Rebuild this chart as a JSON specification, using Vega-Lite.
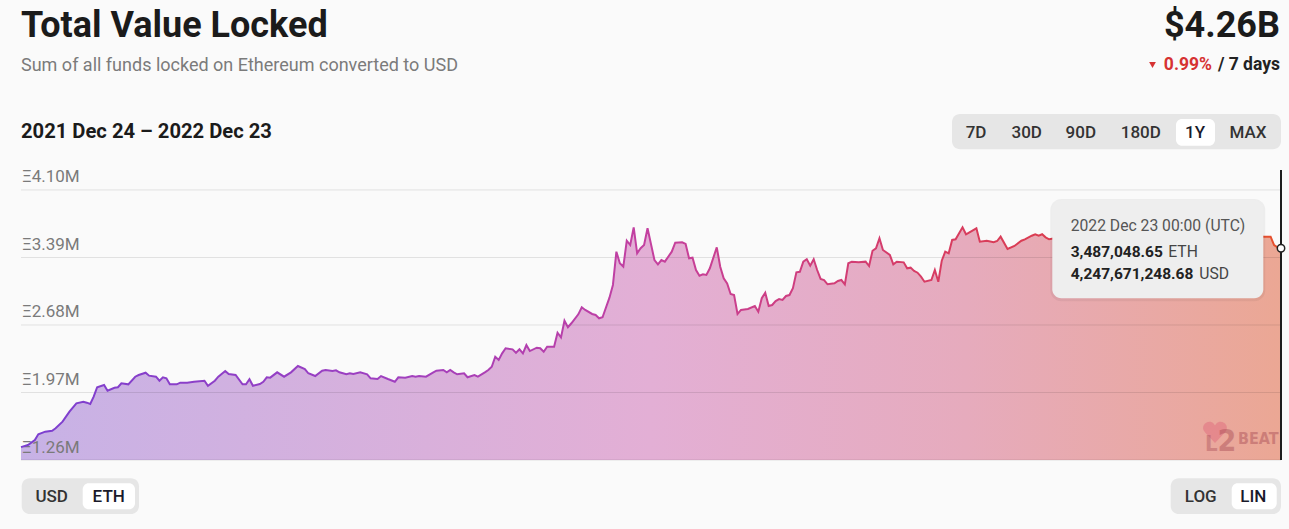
{
  "$schema": "https://vega.github.io/schema/vega-lite/v6.json",
  "width": 1260,
  "height": 290,
  "autosize": {"type": "none"},
  "padding": {"left": 21, "top": 170, "right": 8, "bottom": 69},
  "background": "#fafafa",
  "config": {"view": {"stroke": null}, "font": "Roboto"},
  "data": {"values": [{}]},
  "datasets": {
    "grid": [{"g": 1.26, "label": "Ξ1.26M"}, {"g": 1.97, "label": "Ξ1.97M"}, {"g": 2.68, "label": "Ξ2.68M"}, {"g": 3.39, "label": "Ξ3.39M"}, {"g": 4.10, "label": "Ξ4.10M"}],
    "tvl": [
      {"date": "2021-12-24", "eth": 1.395}, {"date": "2021-12-26", "eth": 1.418}, {"date": "2021-12-28", "eth": 1.470},
      {"date": "2021-12-29", "eth": 1.530}, {"date": "2021-12-31", "eth": 1.558}, {"date": "2022-01-02", "eth": 1.568},
      {"date": "2022-01-03", "eth": 1.593}, {"date": "2022-01-05", "eth": 1.663}, {"date": "2022-01-07", "eth": 1.768},
      {"date": "2022-01-09", "eth": 1.856}, {"date": "2022-01-11", "eth": 1.873}, {"date": "2022-01-12", "eth": 1.863},
      {"date": "2022-01-13", "eth": 1.849}, {"date": "2022-01-14", "eth": 1.926}, {"date": "2022-01-15", "eth": 2.025},
      {"date": "2022-01-17", "eth": 2.049}, {"date": "2022-01-18", "eth": 1.989}, {"date": "2022-01-20", "eth": 2.020},
      {"date": "2022-01-21", "eth": 2.025}, {"date": "2022-01-22", "eth": 2.067}, {"date": "2022-01-24", "eth": 2.056},
      {"date": "2022-01-26", "eth": 2.136}, {"date": "2022-01-27", "eth": 2.154}, {"date": "2022-01-29", "eth": 2.178},
      {"date": "2022-01-30", "eth": 2.147}, {"date": "2022-02-01", "eth": 2.136}, {"date": "2022-02-02", "eth": 2.094},
      {"date": "2022-02-03", "eth": 2.130}, {"date": "2022-02-04", "eth": 2.119}, {"date": "2022-02-05", "eth": 2.056},
      {"date": "2022-02-07", "eth": 2.056}, {"date": "2022-02-08", "eth": 2.073}, {"date": "2022-02-10", "eth": 2.073},
      {"date": "2022-02-12", "eth": 2.083}, {"date": "2022-02-15", "eth": 2.094}, {"date": "2022-02-16", "eth": 2.041},
      {"date": "2022-02-18", "eth": 2.094}, {"date": "2022-02-19", "eth": 2.136}, {"date": "2022-02-21", "eth": 2.196},
      {"date": "2022-02-22", "eth": 2.164}, {"date": "2022-02-24", "eth": 2.154}, {"date": "2022-02-26", "eth": 2.056},
      {"date": "2022-02-27", "eth": 2.056}, {"date": "2022-02-28", "eth": 2.109}, {"date": "2022-03-01", "eth": 2.041},
      {"date": "2022-03-03", "eth": 2.059}, {"date": "2022-03-04", "eth": 2.083}, {"date": "2022-03-05", "eth": 2.130},
      {"date": "2022-03-06", "eth": 2.126}, {"date": "2022-03-08", "eth": 2.182}, {"date": "2022-03-10", "eth": 2.136},
      {"date": "2022-03-12", "eth": 2.182}, {"date": "2022-03-14", "eth": 2.249}, {"date": "2022-03-16", "eth": 2.217},
      {"date": "2022-03-17", "eth": 2.172}, {"date": "2022-03-19", "eth": 2.143}, {"date": "2022-03-21", "eth": 2.199},
      {"date": "2022-03-22", "eth": 2.207}, {"date": "2022-03-24", "eth": 2.196}, {"date": "2022-03-25", "eth": 2.203},
      {"date": "2022-03-26", "eth": 2.182}, {"date": "2022-03-28", "eth": 2.161}, {"date": "2022-03-29", "eth": 2.172},
      {"date": "2022-03-30", "eth": 2.164}, {"date": "2022-04-01", "eth": 2.182}, {"date": "2022-04-03", "eth": 2.161},
      {"date": "2022-04-04", "eth": 2.119}, {"date": "2022-04-06", "eth": 2.112}, {"date": "2022-04-07", "eth": 2.143},
      {"date": "2022-04-09", "eth": 2.112}, {"date": "2022-04-11", "eth": 2.083}, {"date": "2022-04-12", "eth": 2.130},
      {"date": "2022-04-14", "eth": 2.126}, {"date": "2022-04-16", "eth": 2.143}, {"date": "2022-04-17", "eth": 2.136},
      {"date": "2022-04-18", "eth": 2.143}, {"date": "2022-04-20", "eth": 2.136}, {"date": "2022-04-22", "eth": 2.178},
      {"date": "2022-04-23", "eth": 2.199}, {"date": "2022-04-25", "eth": 2.207}, {"date": "2022-04-26", "eth": 2.182},
      {"date": "2022-04-27", "eth": 2.207}, {"date": "2022-04-28", "eth": 2.182}, {"date": "2022-04-29", "eth": 2.161},
      {"date": "2022-05-01", "eth": 2.172}, {"date": "2022-05-02", "eth": 2.130}, {"date": "2022-05-04", "eth": 2.154},
      {"date": "2022-05-05", "eth": 2.136}, {"date": "2022-05-07", "eth": 2.182}, {"date": "2022-05-08", "eth": 2.207},
      {"date": "2022-05-09", "eth": 2.241}, {"date": "2022-05-10", "eth": 2.346}, {"date": "2022-05-11", "eth": 2.312},
      {"date": "2022-05-12", "eth": 2.382}, {"date": "2022-05-13", "eth": 2.435}, {"date": "2022-05-15", "eth": 2.424},
      {"date": "2022-05-16", "eth": 2.388}, {"date": "2022-05-17", "eth": 2.424}, {"date": "2022-05-18", "eth": 2.382},
      {"date": "2022-05-19", "eth": 2.469}, {"date": "2022-05-20", "eth": 2.406}, {"date": "2022-05-22", "eth": 2.441},
      {"date": "2022-05-23", "eth": 2.435}, {"date": "2022-05-24", "eth": 2.399}, {"date": "2022-05-25", "eth": 2.452},
      {"date": "2022-05-27", "eth": 2.452}, {"date": "2022-05-28", "eth": 2.599}, {"date": "2022-05-29", "eth": 2.550},
      {"date": "2022-05-30", "eth": 2.725}, {"date": "2022-05-31", "eth": 2.656}, {"date": "2022-06-01", "eth": 2.698},
      {"date": "2022-06-03", "eth": 2.792}, {"date": "2022-06-04", "eth": 2.866}, {"date": "2022-06-05", "eth": 2.838},
      {"date": "2022-06-07", "eth": 2.796}, {"date": "2022-06-08", "eth": 2.785}, {"date": "2022-06-09", "eth": 2.750},
      {"date": "2022-06-10", "eth": 2.761}, {"date": "2022-06-12", "eth": 2.967}, {"date": "2022-06-13", "eth": 3.101},
      {"date": "2022-06-14", "eth": 3.451}, {"date": "2022-06-15", "eth": 3.329}, {"date": "2022-06-16", "eth": 3.293},
      {"date": "2022-06-17", "eth": 3.566}, {"date": "2022-06-18", "eth": 3.521}, {"date": "2022-06-19", "eth": 3.707},
      {"date": "2022-06-20", "eth": 3.434}, {"date": "2022-06-21", "eth": 3.487}, {"date": "2022-06-22", "eth": 3.521},
      {"date": "2022-06-23", "eth": 3.697}, {"date": "2022-06-25", "eth": 3.363}, {"date": "2022-06-26", "eth": 3.318},
      {"date": "2022-06-27", "eth": 3.363}, {"date": "2022-06-28", "eth": 3.346}, {"date": "2022-06-30", "eth": 3.451},
      {"date": "2022-07-01", "eth": 3.545}, {"date": "2022-07-03", "eth": 3.550}, {"date": "2022-07-04", "eth": 3.532},
      {"date": "2022-07-05", "eth": 3.381}, {"date": "2022-07-06", "eth": 3.388}, {"date": "2022-07-07", "eth": 3.258},
      {"date": "2022-07-08", "eth": 3.198}, {"date": "2022-07-09", "eth": 3.213}, {"date": "2022-07-10", "eth": 3.206},
      {"date": "2022-07-11", "eth": 3.276}, {"date": "2022-07-13", "eth": 3.497}, {"date": "2022-07-14", "eth": 3.293},
      {"date": "2022-07-15", "eth": 3.171}, {"date": "2022-07-16", "eth": 3.118}, {"date": "2022-07-17", "eth": 3.006},
      {"date": "2022-07-18", "eth": 2.995}, {"date": "2022-07-19", "eth": 2.796}, {"date": "2022-07-20", "eth": 2.838},
      {"date": "2022-07-22", "eth": 2.848}, {"date": "2022-07-24", "eth": 2.880}, {"date": "2022-07-25", "eth": 2.820},
      {"date": "2022-07-26", "eth": 2.961}, {"date": "2022-07-27", "eth": 3.020}, {"date": "2022-07-28", "eth": 2.880},
      {"date": "2022-07-29", "eth": 2.890}, {"date": "2022-07-30", "eth": 2.932}, {"date": "2022-07-31", "eth": 2.953},
      {"date": "2022-08-01", "eth": 2.943}, {"date": "2022-08-02", "eth": 2.985}, {"date": "2022-08-03", "eth": 2.995},
      {"date": "2022-08-04", "eth": 3.066}, {"date": "2022-08-05", "eth": 3.234}, {"date": "2022-08-06", "eth": 3.240},
      {"date": "2022-08-07", "eth": 3.346}, {"date": "2022-08-08", "eth": 3.371}, {"date": "2022-08-09", "eth": 3.304},
      {"date": "2022-08-10", "eth": 3.371}, {"date": "2022-08-11", "eth": 3.258}, {"date": "2022-08-12", "eth": 3.164},
      {"date": "2022-08-13", "eth": 3.153}, {"date": "2022-08-14", "eth": 3.108}, {"date": "2022-08-16", "eth": 3.118},
      {"date": "2022-08-17", "eth": 3.143}, {"date": "2022-08-18", "eth": 3.153}, {"date": "2022-08-19", "eth": 3.108},
      {"date": "2022-08-20", "eth": 3.329}, {"date": "2022-08-21", "eth": 3.346}, {"date": "2022-08-23", "eth": 3.339},
      {"date": "2022-08-25", "eth": 3.346}, {"date": "2022-08-26", "eth": 3.300}, {"date": "2022-08-27", "eth": 3.461},
      {"date": "2022-08-28", "eth": 3.487}, {"date": "2022-08-29", "eth": 3.592}, {"date": "2022-08-30", "eth": 3.469},
      {"date": "2022-09-01", "eth": 3.416}, {"date": "2022-09-02", "eth": 3.318}, {"date": "2022-09-03", "eth": 3.346},
      {"date": "2022-09-05", "eth": 3.339}, {"date": "2022-09-06", "eth": 3.276}, {"date": "2022-09-07", "eth": 3.283},
      {"date": "2022-09-08", "eth": 3.248}, {"date": "2022-09-09", "eth": 3.230}, {"date": "2022-09-10", "eth": 3.188},
      {"date": "2022-09-11", "eth": 3.135}, {"date": "2022-09-13", "eth": 3.153}, {"date": "2022-09-14", "eth": 3.258},
      {"date": "2022-09-15", "eth": 3.135}, {"date": "2022-09-16", "eth": 3.356}, {"date": "2022-09-17", "eth": 3.451},
      {"date": "2022-09-18", "eth": 3.434}, {"date": "2022-09-19", "eth": 3.574}, {"date": "2022-09-20", "eth": 3.581},
      {"date": "2022-09-22", "eth": 3.707}, {"date": "2022-09-23", "eth": 3.634}, {"date": "2022-09-24", "eth": 3.655},
      {"date": "2022-09-26", "eth": 3.697}, {"date": "2022-09-27", "eth": 3.556}, {"date": "2022-09-29", "eth": 3.566},
      {"date": "2022-10-01", "eth": 3.550}, {"date": "2022-10-02", "eth": 3.563}, {"date": "2022-10-03", "eth": 3.609},
      {"date": "2022-10-05", "eth": 3.479}, {"date": "2022-10-07", "eth": 3.511}, {"date": "2022-10-09", "eth": 3.566},
      {"date": "2022-10-10", "eth": 3.581}, {"date": "2022-10-12", "eth": 3.619}, {"date": "2022-10-13", "eth": 3.634},
      {"date": "2022-10-14", "eth": 3.619}, {"date": "2022-10-15", "eth": 3.634}, {"date": "2022-10-16", "eth": 3.602},
      {"date": "2022-10-17", "eth": 3.581}, {"date": "2022-10-20", "eth": 3.600}, {"date": "2022-10-23", "eth": 3.622},
      {"date": "2022-10-26", "eth": 3.585}, {"date": "2022-10-29", "eth": 3.628}, {"date": "2022-11-01", "eth": 3.650},
      {"date": "2022-11-04", "eth": 3.612}, {"date": "2022-11-07", "eth": 3.595}, {"date": "2022-11-10", "eth": 3.640},
      {"date": "2022-11-13", "eth": 3.618}, {"date": "2022-11-16", "eth": 3.600}, {"date": "2022-11-19", "eth": 3.630},
      {"date": "2022-11-22", "eth": 3.588}, {"date": "2022-11-25", "eth": 3.605}, {"date": "2022-11-28", "eth": 3.625},
      {"date": "2022-12-01", "eth": 3.595}, {"date": "2022-12-04", "eth": 3.612}, {"date": "2022-12-07", "eth": 3.632},
      {"date": "2022-12-10", "eth": 3.603}, {"date": "2022-12-13", "eth": 3.615}, {"date": "2022-12-16", "eth": 3.620},
      {"date": "2022-12-18", "eth": 3.609}, {"date": "2022-12-20", "eth": 3.609}, {"date": "2022-12-21", "eth": 3.521},
      {"date": "2022-12-22", "eth": 3.497}, {"date": "2022-12-23", "eth": 3.487}
    ]
  },
  "layer": [
    {
      "data": {"name": "tvl"},
      "mark": {"type": "area", "fill": {"gradient": "linear", "x1": 0, "x2": 1, "y1": 0, "y2": 0, "stops": [
        {"offset": 0, "color": "#c7b2e6"}, {"offset": 0.5, "color": "#e3afd5"}, {"offset": 0.75, "color": "#e6abbd"}, {"offset": 1, "color": "#eba794"}]}},
      "encoding": {
        "x": {"field": "date", "type": "temporal", "scale": {"type": "utc", "domain": [1640304000000, 1671753600000]}, "axis": null},
        "y": {"field": "eth", "type": "quantitative", "scale": {"domain": [1.26, 4.31], "nice": false, "zero": false}, "axis": null},
        "y2": {"datum": 1.26}
      }
    },
    {
      "data": {"name": "grid"},
      "mark": {"type": "rule", "stroke": "#000000", "strokeOpacity": 0.1, "strokeWidth": 1},
      "encoding": {"y": {"field": "g", "type": "quantitative", "axis": null}}
    },
    {
      "data": {"name": "grid"},
      "mark": {"type": "text", "align": "left", "baseline": "alphabetic", "dy": -7.5, "font": "Roboto", "fontSize": 17, "fill": "#7a7a7a"},
      "encoding": {
        "x": {"datum": 1640328960000, "type": "temporal", "axis": null},
        "y": {"field": "g", "type": "quantitative", "axis": null},
        "text": {"field": "label", "type": "nominal"}
      }
    },
    {
      "data": {"name": "tvl"},
      "mark": {"type": "line", "strokeWidth": 2, "stroke": {"gradient": "linear", "x1": 0, "x2": 1, "y1": 0, "y2": 0, "stops": [
        {"offset": 0, "color": "#7b3fd0"}, {"offset": 0.3, "color": "#a03fbf"}, {"offset": 0.5, "color": "#c4409f"}, {"offset": 0.7, "color": "#d63c68"}, {"offset": 0.85, "color": "#dc3d48"}, {"offset": 1, "color": "#e6502c"}]}},
      "encoding": {
        "x": {"field": "date", "type": "temporal", "axis": null},
        "y": {"field": "eth", "type": "quantitative", "axis": null}
      }
    },
    {
      "mark": {"type": "point", "shape": "M0,1 L-0.9,0.05 C-1.4,-0.5 -0.8,-1.1 -0.3,-0.9 C-0.15,-0.85 -0.05,-0.7 0,-0.6 C0.05,-0.7 0.15,-0.85 0.3,-0.9 C0.8,-1.1 1.4,-0.5 0.9,0.05 Z", "filled": true, "fill": "#e0707f", "opacity": 0.55, "size": 480},
      "encoding": {"x": {"datum": 1670106240000, "type": "temporal", "axis": null}, "y": {"datum": 1.5545, "type": "quantitative", "axis": null}}
    },
    {
      "mark": {"type": "text", "text": "L", "align": "left", "baseline": "alphabetic", "font": "DejaVu Sans Condensed", "fontWeight": 700, "fontSize": 22, "fill": "#a84c55", "opacity": 0.4},
      "encoding": {"x": {"datum": 1669857600000, "type": "temporal", "axis": null}, "y": {"datum": 1.3547, "type": "quantitative", "axis": null}}
    },
    {
      "mark": {"type": "text", "text": "2", "align": "center", "baseline": "alphabetic", "font": "DejaVu Sans Condensed", "fontWeight": 700, "fontSize": 30, "fill": "#a84c55", "opacity": 0.45},
      "encoding": {"x": {"datum": 1670405760000, "type": "temporal", "axis": null}, "y": {"datum": 1.3547, "type": "quantitative", "axis": null}}
    },
    {
      "mark": {"type": "text", "text": "BEAT", "align": "left", "baseline": "alphabetic", "font": "DejaVu Sans Condensed", "fontWeight": 700, "fontSize": 16, "fill": "#a84c55", "opacity": 0.45},
      "encoding": {"x": {"datum": 1670680320000, "type": "temporal", "axis": null}, "y": {"datum": 1.4283, "type": "quantitative", "axis": null}}
    },
    {
      "mark": {"type": "rule", "stroke": "#1e1e1e", "strokeWidth": 2},
      "encoding": {"x": {"datum": 1671753600000, "type": "temporal", "axis": null}}
    },
    {
      "mark": {"type": "point", "filled": true, "fill": "#ffffff", "stroke": "#222222", "strokeWidth": 1.5, "size": 55, "opacity": 1},
      "encoding": {"x": {"datum": 1671753600000, "type": "temporal", "axis": null}, "y": {"datum": 3.487, "type": "quantitative", "axis": null}}
    },
    {
      "mark": {"type": "rect", "fill": "#000000", "opacity": 0.05, "cornerRadius": 11},
      "encoding": {"x": {"datum": 1665995328000, "type": "temporal", "axis": null}, "x2": {"datum": 1671361728000}, "y": {"datum": 4.005, "type": "quantitative", "axis": null}, "y2": {"datum": 2.929}}
    },
    {
      "mark": {"type": "rect", "fill": "#eeeeee", "cornerRadius": 9},
      "encoding": {"x": {"datum": 1666045248000, "type": "temporal", "axis": null}, "x2": {"datum": 1671311808000}, "y": {"datum": 3.9945, "type": "quantitative", "axis": null}, "y2": {"datum": 2.9606}}
    },
    {
      "mark": {"type": "text", "text": "2022 Dec 23 00:00 (UTC)", "align": "left", "baseline": "alphabetic", "font": "Roboto", "fontSize": 15.7, "fill": "#555555"},
      "encoding": {"x": {"datum": 1666504512000, "type": "temporal", "axis": null}, "y": {"datum": 3.6716, "type": "quantitative", "axis": null}}
    },
    {
      "mark": {"type": "text", "text": "3,487,048.65", "align": "left", "baseline": "alphabetic", "font": "Roboto", "fontSize": 15.5, "fontWeight": 700, "fill": "#222222"},
      "encoding": {"x": {"datum": 1666504512000, "type": "temporal", "axis": null}, "y": {"datum": 3.3982, "type": "quantitative", "axis": null}}
    },
    {
      "mark": {"type": "text", "text": "ETH", "align": "left", "baseline": "alphabetic", "font": "Roboto", "fontSize": 15.7, "fill": "#444444"},
      "encoding": {"x": {"datum": 1668940608000, "type": "temporal", "axis": null}, "y": {"datum": 3.3982, "type": "quantitative", "axis": null}}
    },
    {
      "mark": {"type": "text", "text": "4,247,671,248.68", "align": "left", "baseline": "alphabetic", "font": "Roboto", "fontSize": 15.5, "fontWeight": 700, "fill": "#222222"},
      "encoding": {"x": {"datum": 1666504512000, "type": "temporal", "axis": null}, "y": {"datum": 3.1636, "type": "quantitative", "axis": null}}
    },
    {
      "mark": {"type": "text", "text": "USD", "align": "left", "baseline": "alphabetic", "font": "Roboto", "fontSize": 15.7, "fill": "#444444"},
      "encoding": {"x": {"datum": 1669714368000, "type": "temporal", "axis": null}, "y": {"datum": 3.1636, "type": "quantitative", "axis": null}}
    },
    {
      "mark": {"type": "text", "text": "Total Value Locked", "align": "left", "baseline": "alphabetic", "font": "Roboto", "fontSize": 36, "fontWeight": 700, "fill": "#1b1b1b"},
      "encoding": {"x": {"datum": 1640304000000, "type": "temporal", "axis": null}, "y": {"datum": 5.7036, "type": "quantitative", "axis": null}}
    },
    {
      "mark": {"type": "text", "text": "Sum of all funds locked on Ethereum converted to USD", "align": "left", "baseline": "alphabetic", "font": "Roboto", "fontSize": 18, "fill": "#7b7b7b"},
      "encoding": {"x": {"datum": 1640304000000, "type": "temporal", "axis": null}, "y": {"datum": 5.3512, "type": "quantitative", "axis": null}}
    },
    {
      "mark": {"type": "text", "text": "2021 Dec 24 – 2022 Dec 23", "align": "left", "baseline": "alphabetic", "font": "Roboto", "fontSize": 20.2, "fontWeight": 700, "fill": "#1b1b1b"},
      "encoding": {"x": {"datum": 1640304000000, "type": "temporal", "axis": null}, "y": {"datum": 4.6497, "type": "quantitative", "axis": null}}
    },
    {
      "mark": {"type": "text", "text": "$4.26B", "align": "right", "baseline": "alphabetic", "font": "Roboto", "fontSize": 36, "fontWeight": 700, "fill": "#1b1b1b"},
      "encoding": {"x": {"datum": 1671728640000, "type": "temporal", "axis": null}, "y": {"datum": 5.7036, "type": "quantitative", "axis": null}}
    },
    {
      "mark": {"type": "text", "text": "/ 7 days", "align": "right", "baseline": "alphabetic", "font": "Roboto", "fontSize": 17.5, "fontWeight": 700, "fill": "#222222"},
      "encoding": {"x": {"datum": 1671728640000, "type": "temporal", "axis": null}, "y": {"datum": 5.3617, "type": "quantitative", "axis": null}}
    },
    {
      "mark": {"type": "text", "text": "0.99%", "align": "right", "baseline": "alphabetic", "font": "Roboto", "fontSize": 17.5, "fontWeight": 700, "fill": "#d63232"},
      "encoding": {"x": {"datum": 1670031360000, "type": "temporal", "axis": null}, "y": {"datum": 5.3617, "type": "quantitative", "axis": null}}
    },
    {
      "mark": {"type": "point", "shape": "triangle-down", "filled": true, "fill": "#d63232", "size": 45, "opacity": 1},
      "encoding": {"x": {"datum": 1668546240000, "type": "temporal", "axis": null}, "y": {"datum": 5.4143, "type": "quantitative", "axis": null}}
    },
    {
      "mark": {"type": "rect", "fill": "#e6e6e6", "cornerRadius": 8},
      "encoding": {"x": {"datum": 1663541760000, "type": "temporal", "axis": null}, "x2": {"datum": 1671753600000}, "y": {"datum": 4.899, "type": "quantitative", "axis": null}, "y2": {"datum": 4.5277}}
    },
    {
      "mark": {"type": "rect", "fill": "#ffffff", "cornerRadius": 6},
      "encoding": {"x": {"datum": 1669132800000, "type": "temporal", "axis": null}, "x2": {"datum": 1670106240000}, "y": {"datum": 4.8464, "type": "quantitative", "axis": null}, "y2": {"datum": 4.5656}}
    },
    {
      "mark": {"type": "text", "text": "7D", "align": "center", "baseline": "alphabetic", "font": "Roboto", "fontSize": 17, "fontWeight": 500, "fill": "#333333"},
      "encoding": {"x": {"datum": 1664140800000, "type": "temporal", "axis": null}, "y": {"datum": 4.6466, "type": "quantitative", "axis": null}}
    },
    {
      "mark": {"type": "text", "text": "30D", "align": "center", "baseline": "alphabetic", "font": "Roboto", "fontSize": 17, "fontWeight": 500, "fill": "#333333"},
      "encoding": {"x": {"datum": 1665406272000, "type": "temporal", "axis": null}, "y": {"datum": 4.6466, "type": "quantitative", "axis": null}}
    },
    {
      "mark": {"type": "text", "text": "90D", "align": "center", "baseline": "alphabetic", "font": "Roboto", "fontSize": 17, "fontWeight": 500, "fill": "#333333"},
      "encoding": {"x": {"datum": 1666756608000, "type": "temporal", "axis": null}, "y": {"datum": 4.6466, "type": "quantitative", "axis": null}}
    },
    {
      "mark": {"type": "text", "text": "180D", "align": "center", "baseline": "alphabetic", "font": "Roboto", "fontSize": 17, "fontWeight": 500, "fill": "#333333"},
      "encoding": {"x": {"datum": 1668254208000, "type": "temporal", "axis": null}, "y": {"datum": 4.6466, "type": "quantitative", "axis": null}}
    },
    {
      "mark": {"type": "text", "text": "1Y", "align": "center", "baseline": "alphabetic", "font": "Roboto", "fontSize": 17, "fontWeight": 500, "fill": "#1a1a2a"},
      "encoding": {"x": {"datum": 1669607040000, "type": "temporal", "axis": null}, "y": {"datum": 4.6466, "type": "quantitative", "axis": null}}
    },
    {
      "mark": {"type": "text", "text": "MAX", "align": "center", "baseline": "alphabetic", "font": "Roboto", "fontSize": 17, "fontWeight": 500, "fill": "#333333"},
      "encoding": {"x": {"datum": 1670929920000, "type": "temporal", "axis": null}, "y": {"datum": 4.6466, "type": "quantitative", "axis": null}}
    },
    {
      "mark": {"type": "rect", "fill": "#e6e6e6", "cornerRadius": 8},
      "encoding": {"x": {"datum": 1640321472000, "type": "temporal", "axis": null}, "x2": {"datum": 1643249280000}, "y": {"datum": 1.0675, "type": "quantitative", "axis": null}, "y2": {"datum": 0.6921}}
    },
    {
      "mark": {"type": "rect", "fill": "#ffffff", "cornerRadius": 6},
      "encoding": {"x": {"datum": 1641844032000, "type": "temporal", "axis": null}, "x2": {"datum": 1643149440000}, "y": {"datum": 1.0149, "type": "quantitative", "axis": null}, "y2": {"datum": 0.7415}}
    },
    {
      "mark": {"type": "text", "text": "USD", "align": "center", "baseline": "alphabetic", "font": "Roboto", "fontSize": 17, "fontWeight": 500, "fill": "#333333"},
      "encoding": {"x": {"datum": 1641070272000, "type": "temporal", "axis": null}, "y": {"datum": 0.8151, "type": "quantitative", "axis": null}}
    },
    {
      "mark": {"type": "text", "text": "ETH", "align": "center", "baseline": "alphabetic", "font": "Roboto", "fontSize": 17, "fontWeight": 500, "fill": "#1a1a2a"},
      "encoding": {"x": {"datum": 1642492992000, "type": "temporal", "axis": null}, "y": {"datum": 0.8151, "type": "quantitative", "axis": null}}
    },
    {
      "mark": {"type": "rect", "fill": "#e6e6e6", "cornerRadius": 8},
      "encoding": {"x": {"datum": 1669000512000, "type": "temporal", "axis": null}, "x2": {"datum": 1671753600000}, "y": {"datum": 1.0675, "type": "quantitative", "axis": null}, "y2": {"datum": 0.6921}}
    },
    {
      "mark": {"type": "rect", "fill": "#ffffff", "cornerRadius": 6},
      "encoding": {"x": {"datum": 1670523072000, "type": "temporal", "axis": null}, "x2": {"datum": 1671646272000}, "y": {"datum": 1.0149, "type": "quantitative", "axis": null}, "y2": {"datum": 0.7415}}
    },
    {
      "mark": {"type": "text", "text": "LOG", "align": "center", "baseline": "alphabetic", "font": "Roboto", "fontSize": 17, "fontWeight": 500, "fill": "#333333"},
      "encoding": {"x": {"datum": 1669749312000, "type": "temporal", "axis": null}, "y": {"datum": 0.8151, "type": "quantitative", "axis": null}}
    },
    {
      "mark": {"type": "text", "text": "LIN", "align": "center", "baseline": "alphabetic", "font": "Roboto", "fontSize": 17, "fontWeight": 500, "fill": "#1a1a2a"},
      "encoding": {"x": {"datum": 1671062208000, "type": "temporal", "axis": null}, "y": {"datum": 0.8151, "type": "quantitative", "axis": null}}
    }
  ]
}
